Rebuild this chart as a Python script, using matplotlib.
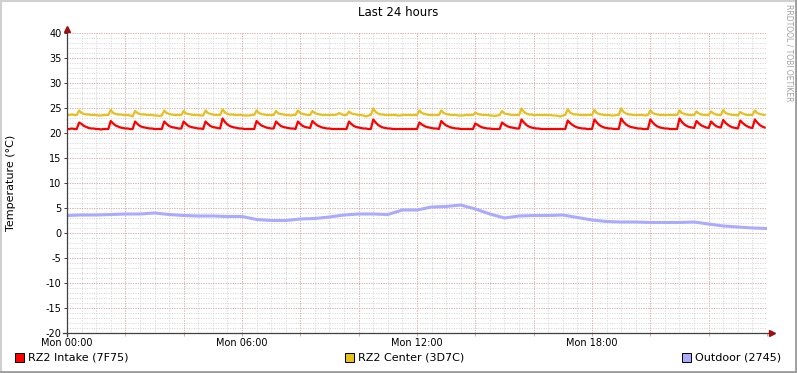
import numpy as np
import matplotlib
matplotlib.use('Agg')
import matplotlib.pyplot as plt
from matplotlib.patches import Rectangle
from matplotlib.lines import Line2D

plt.rcParams['axes.unicode_minus'] = False

# 5 minute samples, one row per hour
intake = [
    20.8, 20.8, 20.9, 20.8, 20.8, 22.1, 21.8, 21.4, 21.2, 21.0, 20.9, 20.9,
    20.8, 20.8, 20.7, 20.8, 20.8, 20.8, 22.4, 21.9, 21.5, 21.3, 21.1, 21.0,
    20.9, 20.9, 20.8, 20.8, 22.3, 21.8, 21.4, 21.2, 21.1, 21.0, 20.9, 20.9,
    20.8, 20.8, 20.8, 20.8, 22.3, 21.8, 21.4, 21.2, 21.1, 21.0, 20.9, 20.9,
    22.3, 21.8, 21.4, 21.2, 21.1, 21.0, 20.9, 20.9, 20.8, 22.3, 21.8, 21.4,
    21.2, 21.1, 21.0, 20.9, 22.9, 22.2, 21.7, 21.4, 21.2, 21.1, 21.0, 20.9,
    20.9, 20.8, 20.8, 20.8, 20.8, 20.8, 22.4, 21.9, 21.5, 21.3, 21.1, 21.0,
    20.9, 20.9, 22.3, 21.8, 21.4, 21.2, 21.1, 21.0, 20.9, 20.9, 20.8, 22.3,
    21.8, 21.4, 21.2, 21.1, 21.0, 22.4, 21.9, 21.5, 21.3, 21.1, 21.0, 20.9,
    20.9, 20.8, 20.8, 20.8, 20.8, 20.8, 20.8, 20.8, 22.3, 21.8, 21.4, 21.2,
    21.1, 21.0, 20.9, 20.9, 20.8, 20.8, 22.7, 22.1, 21.6, 21.3, 21.1, 21.0,
    20.9, 20.9, 20.8, 20.8, 20.8, 20.8, 20.8, 20.8, 20.8, 20.8, 20.8, 20.8,
    20.8, 22.1, 21.7, 21.4, 21.2, 21.1, 21.0, 20.9, 20.9, 20.8, 22.4, 21.9,
    21.5, 21.3, 21.1, 21.0, 20.9, 20.9, 20.8, 20.8, 20.8, 20.8, 20.8, 20.8,
    21.9, 21.6, 21.3, 21.1, 21.0, 20.9, 20.9, 20.8, 20.8, 20.8, 20.8, 22.1,
    21.7, 21.4, 21.2, 21.1, 21.0, 20.9, 20.9, 22.7, 22.1, 21.6, 21.3, 21.1,
    21.0, 20.9, 20.9, 20.8, 20.8, 20.8, 20.8, 20.8, 20.8, 20.8, 20.8, 20.8,
    20.8, 20.8, 22.5, 22.0, 21.6, 21.3, 21.1, 21.0, 20.9, 20.9, 20.8, 20.8,
    20.8, 22.7, 22.1, 21.6, 21.3, 21.1, 21.0, 20.9, 20.9, 20.8, 20.8, 20.8,
    22.9, 22.2, 21.7, 21.4, 21.2, 21.1, 21.0, 20.9, 20.9, 20.8, 20.8, 20.8,
    22.7, 22.1, 21.6, 21.3, 21.1, 21.0, 20.9, 20.9, 20.8, 20.8, 20.8, 20.8,
    22.9, 22.2, 21.7, 21.4, 21.2, 21.1, 21.0, 22.4, 21.9, 21.5, 21.3, 21.1,
    21.0, 22.3, 21.8, 21.4, 21.2, 21.1, 22.6, 22.0, 21.6, 21.3, 21.1, 21.0,
    20.9, 22.5, 22.0, 21.6, 21.3, 21.1, 21.0, 22.7, 22.1, 21.6, 21.3, 21.1,
]

center = [
    23.6, 23.6, 23.7, 23.6, 23.6, 24.5, 24.0, 23.8, 23.7, 23.7, 23.6, 23.6,
    23.6, 23.5, 23.5, 23.6, 23.6, 23.6, 24.6, 24.0, 23.8, 23.7, 23.7, 23.6,
    23.6, 23.6, 23.5, 23.3, 24.4, 24.0, 23.8, 23.7, 23.7, 23.6, 23.6, 23.6,
    23.5, 23.5, 23.4, 23.5, 24.5, 24.0, 23.8, 23.7, 23.6, 23.6, 23.6, 23.6,
    24.4, 23.9, 23.8, 23.7, 23.6, 23.6, 23.6, 23.5, 23.5, 24.5, 24.0, 23.8,
    23.7, 23.6, 23.6, 23.6, 24.7, 24.1, 23.8, 23.7, 23.7, 23.6, 23.6, 23.6,
    23.6, 23.5, 23.5, 23.5, 23.6, 23.6, 24.5, 24.0, 23.8, 23.7, 23.6, 23.6,
    23.6, 23.6, 24.4, 23.9, 23.8, 23.7, 23.6, 23.6, 23.5, 23.6, 23.6, 24.5,
    24.0, 23.8, 23.7, 23.6, 23.6, 24.4, 24.0, 23.8, 23.7, 23.6, 23.6, 23.6,
    23.6, 23.6, 23.6, 23.7, 24.0, 23.7, 23.6, 23.6, 24.3, 23.9, 23.8, 23.7,
    23.6, 23.6, 23.5, 23.3, 23.5, 23.6, 24.9, 24.2, 23.9, 23.7, 23.7, 23.6,
    23.6, 23.6, 23.6, 23.6, 23.5, 23.5, 23.6, 23.6, 23.6, 23.6, 23.6, 23.6,
    23.6, 24.5, 24.0, 23.8, 23.7, 23.6, 23.6, 23.6, 23.6, 23.6, 24.5, 24.0,
    23.8, 23.7, 23.6, 23.6, 23.6, 23.5, 23.5, 23.5, 23.6, 23.6, 23.6, 23.6,
    24.1, 23.8, 23.7, 23.6, 23.6, 23.6, 23.5, 23.5, 23.4, 23.5, 23.6, 24.4,
    23.9, 23.8, 23.7, 23.6, 23.6, 23.6, 23.6, 24.9, 24.2, 23.9, 23.7, 23.7,
    23.6, 23.6, 23.6, 23.6, 23.6, 23.6, 23.6, 23.6, 23.5, 23.5, 23.4, 23.3,
    23.5, 23.6, 24.7, 24.1, 23.8, 23.7, 23.7, 23.6, 23.6, 23.6, 23.6, 23.6,
    23.6, 24.6, 24.0, 23.8, 23.7, 23.6, 23.6, 23.6, 23.5, 23.5, 23.6, 23.6,
    24.9, 24.2, 23.9, 23.7, 23.7, 23.6, 23.6, 23.6, 23.6, 23.6, 23.5, 23.6,
    24.5, 24.0, 23.8, 23.7, 23.6, 23.6, 23.6, 23.6, 23.6, 23.6, 23.6, 23.6,
    24.5, 24.0, 23.8, 23.7, 23.6, 23.6, 23.6, 24.3, 23.9, 23.7, 23.6, 23.6,
    23.6, 24.3, 23.9, 23.7, 23.6, 23.6, 24.6, 24.0, 23.8, 23.7, 23.6, 23.6,
    23.5, 24.2, 23.9, 23.7, 23.6, 23.6, 23.6, 24.5, 24.0, 23.8, 23.7, 23.6,
]

# half hourly samples
outdoor = [
    3.5, 3.6, 3.6, 3.7, 3.8, 3.8, 4.0, 3.7, 3.5, 3.4,
    3.4, 3.3, 3.3, 2.7, 2.5, 2.5, 2.8, 2.9, 3.2, 3.6,
    3.8, 3.8, 3.7, 4.6, 4.6, 5.2, 5.3, 5.6, 4.8, 3.8,
    3.0, 3.4, 3.5, 3.5, 3.6, 3.1, 2.6, 2.3, 2.2, 2.2,
    2.1, 2.1, 2.1, 2.2, 1.8, 1.4, 1.2, 1.0, 0.9,
]

names = ['RZ2 Intake (7F75)', 'RZ2 Center (3D7C)', 'Outdoor (2745)']
colors = ['#ff0000', '#e8c01e', '#aaaaff']
xlabels = ['Mon 00:00', 'Mon 06:00', 'Mon 12:00', 'Mon 18:00']

t5 = np.arange(len(intake)) * 5 / 60.0
t30 = np.arange(len(outdoor)) * 0.5

W, H = 797, 373
fig = plt.figure(figsize=(W / 100, H / 100), dpi=100)
fig.patch.set_facecolor('white')

def fx(px):
    return px / W

def fy(py):
    return 1 - py / H

ax = fig.add_axes([fx(67), fy(333), 700 / W, 300 / H])
ax.set_xlim(0, 24)
ax.set_ylim(-20, 40)
for s in ax.spines.values():
    s.set_visible(False)

# grid, minor grey and major pink, both dotted
dots = (0, (1, 1.5))
for v in np.arange(0.5, 24.01, 0.5):
    ax.axvline(v, color='#d2d2d2', lw=0.7, ls=dots, zorder=1)
for v in range(-19, 41):
    ax.axhline(v, color='#d2d2d2', lw=0.7, ls=dots, zorder=1)
for v in range(2, 24, 2):
    ax.axvline(v, color='#e6a4a4', lw=0.7, ls=dots, zorder=1.5)
for v in range(-15, 41, 5):
    ax.axhline(v, color='#e6a4a4', lw=0.7, ls=dots, zorder=1.5)

ax.plot(t5, intake, color=colors[0], lw=1.6, zorder=3)
ax.plot(t5, center, color=colors[1], lw=1.6, zorder=3)
ax.plot(t30, outdoor, color=colors[2], lw=2.2, zorder=3)

# ticks
ax.set_xticks(range(0, 25, 2))
ax.set_xticklabels([xlabels[i // 6] if i % 6 == 0 and i < 24 else '' for i in range(0, 25, 2)])
ax.set_yticks(range(-20, 41, 5))
ax.tick_params(axis='x', length=2.5, width=0.72, color='#e6a8a8', pad=1, labelsize=7)
ax.tick_params(axis='y', length=2.5, width=0.72, color='#404040', pad=1.5, labelsize=7)

# axes with arrows
ax.plot([-4 / 700, 705 / 700], [0, 0], color='#404040', lw=0.9, transform=ax.transAxes, clip_on=False, zorder=4)
ax.plot([0, 0], [-3 / 300, 304 / 300], color='#404040', lw=0.9, transform=ax.transAxes, clip_on=False, zorder=4)
ax.plot([705 / 700], [0], marker='>', ms=4, color='#9c1010', transform=ax.transAxes, clip_on=False, zorder=5)
ax.plot([0], [304 / 300], marker='^', ms=4, color='#9c1010', transform=ax.transAxes, clip_on=False, zorder=5)

fig.text(fx(398), fy(13), 'Last 24 hours', ha='center', va='center', fontsize=8.5)
fig.text(fx(11), fy(183), 'Temperature (°C)', rotation=90, ha='center', va='center', fontsize=8)
fig.text(fx(789), fy(4), 'RRDTOOL / TOBI OETIKER', rotation=270, ha='center', va='top',
         fontsize=5.5, color='#a0a0a0')

# legend
for x0, name, c in zip([15, 345, 682], names, colors):
    fig.patches.append(Rectangle((fx(x0), fy(362)), 9 / W, 9 / H, transform=fig.transFigure,
                                 facecolor=c, edgecolor='black', lw=0.7))
    fig.text(fx(x0 + 13), fy(358), name, ha='left', va='center', fontsize=8)

# frame shade
fig.add_artist(Line2D([0, 1], [fy(1), fy(1)], color='#d0d0d0', lw=1.5, transform=fig.transFigure))
fig.add_artist(Line2D([fx(1), fx(1)], [0, 1], color='#d0d0d0', lw=1.5, transform=fig.transFigure))
fig.add_artist(Line2D([0, 1], [fy(372), fy(372)], color='#9c9c9c', lw=2, transform=fig.transFigure))
fig.add_artist(Line2D([fx(796), fx(796)], [0, 1], color='#9c9c9c', lw=2, transform=fig.transFigure))

fig.savefig('out.png', dpi=100)
